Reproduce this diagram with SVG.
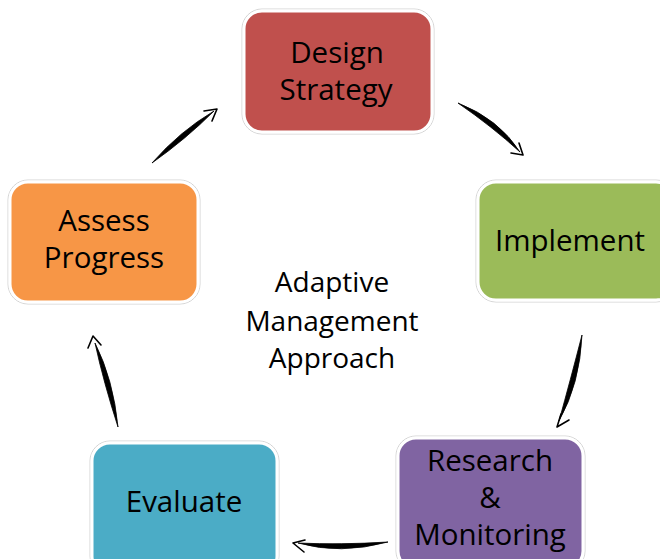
<svg xmlns="http://www.w3.org/2000/svg" width="660" height="559" viewBox="0 0 660 559">
<style>
.outer{fill:none;stroke:#d4d4d4;stroke-width:1}
.box{stroke:#ffffff;stroke-width:3}
.lbl{font-family:"Open Sans","Noto Sans",sans-serif;font-size:29.5px;fill:#000;text-anchor:middle}
.ctr{font-family:"Open Sans","Noto Sans",sans-serif;font-size:28px;fill:#000;text-anchor:middle}
.body{fill:#000;stroke:#000;stroke-width:0.8;stroke-linejoin:round}
.head{fill:none;stroke:#000;stroke-width:1.6;stroke-linecap:round;stroke-linejoin:round}
</style>
<rect width="660" height="559" fill="#ffffff"/>
<g id="design">
<rect class="outer" x="242" y="9" width="192" height="125" rx="20"/>
<rect class="box" x="244" y="11" width="188" height="121" rx="18" fill="#C0504D"/>
<text class="lbl"><tspan x="337" y="63">Design</tspan><tspan x="336" y="100">Strategy</tspan></text>
</g>
<g id="implement">
<rect class="outer" x="476" y="180" width="200" height="122" rx="20"/>
<rect class="box" x="478" y="182" width="196" height="118" rx="18" fill="#9BBB59"/>
<text class="lbl" x="570" y="251">Implement</text>
</g>
<g id="research">
<rect class="outer" x="396" y="436" width="189" height="135" rx="20"/>
<rect class="box" x="398" y="438" width="185" height="131" rx="18" fill="#8064A2"/>
<text class="lbl"><tspan x="490" y="470.5">Research</tspan><tspan x="490" y="507.5">&amp;</tspan><tspan x="490" y="544.5">Monitoring</tspan></text>
</g>
<g id="evaluate">
<rect class="outer" x="90" y="441" width="189" height="135" rx="20"/>
<rect class="box" x="92" y="443" width="185" height="131" rx="18" fill="#4BACC6"/>
<text class="lbl" x="184" y="512">Evaluate</text>
</g>
<g id="assess">
<rect class="outer" x="8" y="180" width="192" height="124" rx="20"/>
<rect class="box" x="10" y="182" width="188" height="120" rx="18" fill="#F79646"/>
<text class="lbl"><tspan x="104" y="231">Assess</tspan><tspan x="104" y="268">Progress</tspan></text>
</g>
<g id="center">
<text class="ctr"><tspan x="332" y="292">Adaptive</tspan><tspan x="332" y="331">Management</tspan><tspan x="332" y="368">Approach</tspan></text>
</g>
<g id="connectors">
<path class="body" d="M152,163 Q186.2,138.9 214,111 Q179.8,131.2 152,163 Z"/>
<polyline class="head" points="204,111 217,109 212,121"/>
<path class="body" d="M458,103 Q498.7,118.9 520,152 Q492.3,126.7 458,103 Z"/>
<polyline class="head" points="511,153 523,155 519,143"/>
<path class="body" d="M582,335 Q579.9,383.8 559,421 Q570.1,381.2 582,335 Z"/>
<polyline class="head" points="561,414 557,427 569,420"/>
<path class="body" d="M388,542 Q340,555 298,543 Q340,545 388,542 Z"/>
<polyline class="head" points="305,540 293,543 304,552"/>
<path class="body" d="M118,427 Q113.3,379.4 95,343 Q103.5,382.1 118,427 Z"/>
<polyline class="head" points="88,348 93,336 101,345"/>
</g>
</svg>
